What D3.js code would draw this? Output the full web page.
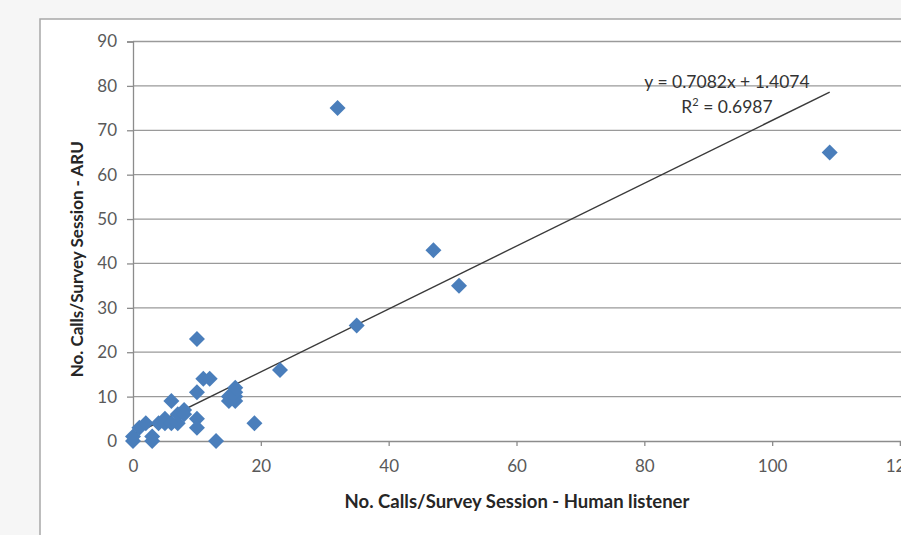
<!DOCTYPE html>
<html>
<head>
<meta charset="utf-8">
<script src="https://cdn.jsdelivr.net/npm/d3@7"></script>
<style>
  body { margin: 0; background: #f6f6f6; }
  svg { display: block; }
</style>
</head>
<body>
<svg id="chart" width="901" height="535"></svg>
<script>
// data
const humanCalls = [0, 0, 1, 2, 3, 3, 4, 5, 5, 6, 6, 7, 7, 8, 8, 10, 10, 10, 10, 11, 12, 13,
                    15, 15, 16, 16, 16, 16, 19, 23, 32, 35, 47, 51, 109];
const aruCalls   = [0, 1, 3, 4, 0, 1, 4, 5, 4, 9, 4, 4, 6, 7, 6, 23, 11, 5, 3, 14, 14, 0,
                    9, 10, 9, 10, 11, 12, 4, 16, 75, 26, 43, 35, 65];
const xTicks = [0, 20, 40, 60, 80, 100, 120];
const yTicks = [0, 10, 20, 30, 40, 50, 60, 70, 80, 90];
const trendSlope = 0.7082;
const trendIntercept = 1.4074;
const trendRange = [0, 109];
const eqLabel = "y = 0.7082x + 1.4074";
const r2Label = "0.6987";

const svg = d3.select("#chart");
const font = "Lato, 'Open Sans', sans-serif";

// white frame (chart area)
svg.append("rect")
    .attr("x", 40).attr("y", 19)
    .attr("width", 880).attr("height", 540)
    .attr("fill", "#fff")
    .attr("stroke", "#a8a8a8")
    .attr("stroke-width", 1.5);

const x = d3.scaleLinear().domain([0, 120]).range([133, 900]);
const y = d3.scaleLinear().domain([0, 90]).range([441, 41.5]);

// gridlines
svg.append("g")
    .selectAll("line")
    .data(yTicks.filter(d => d > 0))
    .join("line")
    .attr("x1", x(0)).attr("x2", 901)
    .attr("y1", d => y(d)).attr("y2", d => y(d))
    .attr("stroke", "#9a9a9a")
    .attr("stroke-width", 1.3);

// y axis
const yAxis = svg.append("g")
    .attr("transform", `translate(${x(0)},0)`)
    .call(d3.axisLeft(y).tickValues(yTicks).tickSize(6).tickPadding(10));
// x axis
const xAxis = svg.append("g")
    .attr("transform", `translate(0,${y(0)})`)
    .call(d3.axisBottom(x).tickValues(xTicks).tickSize(5).tickPadding(14));

[yAxis, xAxis].forEach(ax => {
    ax.select(".domain").attr("stroke", "#8c8c8c").attr("stroke-width", 1.3);
    ax.selectAll(".tick line").attr("stroke", "#8c8c8c").attr("stroke-width", 1.3);
    ax.selectAll(".tick text")
        .attr("fill", "#595959")
        .style("font-family", font)
        .style("font-size", "17px");
});

// axis titles
svg.append("text")
    .attr("x", 517).attr("y", 508)
    .attr("text-anchor", "middle")
    .style("font-family", font)
    .style("font-weight", "bold")
    .style("font-size", "18.5px")
    .attr("fill", "#262626")
    .text("No. Calls/Survey Session  - Human listener");

svg.append("text")
    .attr("transform", `translate(83,${y(45) + 18}) rotate(-90)`)
    .attr("text-anchor", "middle")
    .style("font-family", font)
    .style("font-weight", "bold")
    .style("font-size", "17px")
    .attr("fill", "#262626")
    .text("No. Calls/Survey Session  - ARU");

// trendline
svg.append("line")
    .attr("x1", x(trendRange[0]))
    .attr("y1", y(trendSlope * trendRange[0] + trendIntercept))
    .attr("x2", x(trendRange[1]))
    .attr("y2", y(trendSlope * trendRange[1] + trendIntercept))
    .attr("stroke", "#3a3a3a")
    .attr("stroke-width", 1.4);

// points
const points = humanCalls.map((h, i) => ({h: h, a: aruCalls[i]}));
const diamond = "M0,-8L8,0L0,8L-8,0Z";
svg.append("g")
    .selectAll("path")
    .data(points)
    .join("path")
    .attr("d", diamond)
    .attr("transform", d => `translate(${x(d.h)},${y(d.a)})`)
    .attr("fill", "#4a7ebb");

// equation labels
const eq = svg.append("text")
    .attr("x", 727).attr("y", 88)
    .attr("text-anchor", "middle")
    .style("font-family", font)
    .style("font-size", "17.5px")
    .attr("fill", "#333");
eq.text(eqLabel);

const r2 = svg.append("text")
    .attr("x", 727).attr("y", 113)
    .attr("text-anchor", "middle")
    .style("font-family", font)
    .style("font-size", "17.5px")
    .attr("fill", "#333");
r2.append("tspan").text("R");
r2.append("tspan").attr("dy", -7).style("font-size", "11px").text("2");
r2.append("tspan").attr("dy", 7).text(" = " + r2Label);
</script>
</body>
</html>
